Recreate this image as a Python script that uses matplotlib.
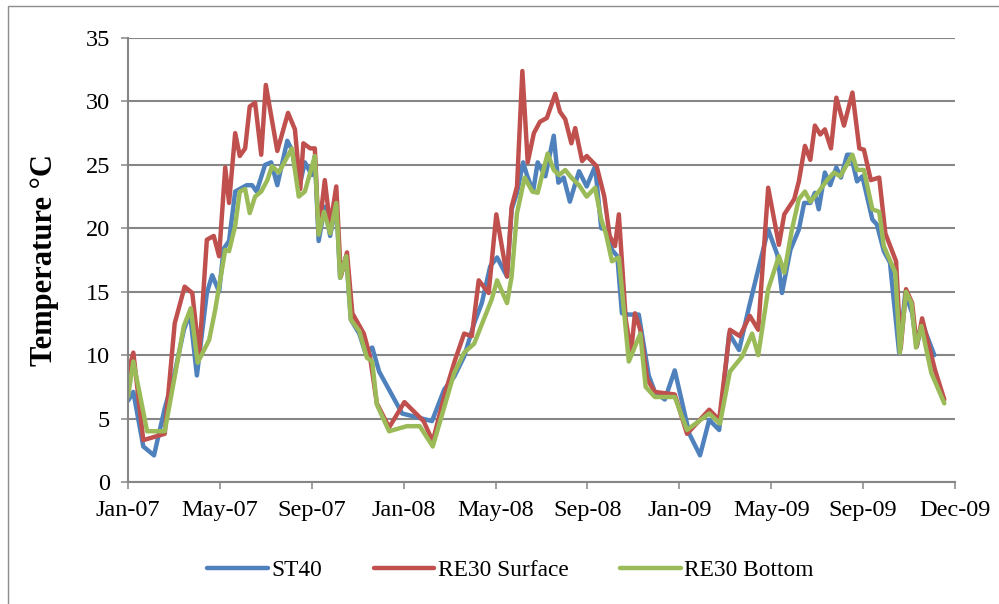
"""
Water temperature at ST40 and RE30 (surface / bottom), 2007-2009
"""

import numpy as np
import matplotlib
matplotlib.use("Agg")
import matplotlib.pyplot as plt
import matplotlib.dates as mdates
from matplotlib.patches import Rectangle

# sampling days, counted from 15 Jan 2007
START = np.datetime64("2007-01-15")
AXIS_DAYS = 1080
TICK_STEP = 120

st40_day = [0, 7, 20, 34, 48, 61, 73, 81, 90, 103, 110, 119, 125, 132, 140, 149, 155,
            162, 168, 179, 187, 195, 208, 214, 223, 231, 240, 244, 249, 257, 264, 272,
            277, 285, 291, 302, 310, 319, 328, 358, 397, 413, 426, 439, 452, 462, 473,
            482, 495, 501, 508, 516, 521, 529, 535, 545, 556, 562, 569, 577, 589, 599,
            610, 618, 626, 632, 639, 645, 654, 667, 680, 688, 701, 714, 733, 747, 759,
            772, 785, 798, 811, 824, 836, 848, 854, 865, 876, 883, 891, 897, 902, 910,
            917, 925, 931, 939, 944, 952, 959, 972, 978, 987, 995, 1007, 1015, 1024,
            1030, 1037, 1053]
st40_temp = [6.4, 7.1, 2.8, 2.1, 5.8, 8.6, 12.0, 13.3, 8.4, 14.9, 16.3, 15.0, 18.4, 19.0,
             22.9, 23.2, 23.4, 23.4, 22.9, 25.0, 25.2, 23.4, 26.9, 26.2, 23.1, 25.2, 24.2,
             25.7, 19.0, 21.7, 19.4, 22.0, 16.1, 17.8, 12.8, 11.7, 10.2, 10.6, 8.7, 5.4,
             4.8, 7.3, 8.3, 9.9, 12.5, 14.1, 17.0, 17.7, 16.2, 21.5, 22.8, 25.2, 24.2,
             22.9, 25.2, 24.1, 27.3, 23.6, 24.0, 22.1, 24.5, 23.3, 24.9, 20.0, 19.9, 18.3,
             17.8, 13.3, 13.2, 13.2, 8.4, 7.1, 6.5, 8.8, 3.8, 2.1, 4.9, 4.1, 11.7, 10.4,
             13.8, 17.0, 19.9, 17.9, 14.9, 18.3, 19.9, 22.0, 22.0, 22.8, 21.5, 24.4, 23.4,
             24.8, 24.0, 25.8, 25.8, 23.7, 24.1, 20.7, 20.3, 18.2, 17.3, 10.2, 14.9, 13.3,
             10.7, 12.5, 10.0]

surface_day = [0, 7, 20, 48, 61, 74, 84, 93, 103, 112, 119, 127, 132, 140, 146, 153, 159,
               166, 174, 180, 195, 209, 218, 225, 229, 238, 244, 249, 257, 264, 272, 278,
               286, 293, 308, 316, 325, 341, 361, 386, 398, 414, 427, 439, 449, 458, 471,
               481, 495, 501, 508, 515, 522, 530, 538, 547, 558, 564, 571, 579, 584, 593,
               599, 612, 622, 629, 636, 641, 650, 657, 662, 669, 678, 688, 714, 730, 759,
               772, 786, 799, 812, 823, 836, 850, 857, 870, 876, 884, 891, 897, 904, 910,
               918, 925, 935, 946, 955, 961, 970, 981, 989, 1003, 1009, 1016, 1024, 1030,
               1037, 1046, 1054, 1066]
surface_temp = [8.6, 10.2, 3.3, 3.8, 12.5, 15.4, 14.9, 10.0, 19.1, 19.4, 17.8, 24.8, 22.0,
                27.5, 25.7, 26.3, 29.6, 29.9, 25.8, 31.3, 26.1, 29.1, 27.8, 23.1, 26.7,
                26.3, 26.3, 19.6, 23.8, 20.2, 23.3, 16.2, 18.1, 13.3, 11.7, 9.9, 6.2, 4.3,
                6.3, 4.8, 3.2, 7.0, 9.6, 11.7, 11.5, 15.9, 14.9, 21.1, 16.2, 21.7, 23.3,
                32.4, 25.2, 27.5, 28.4, 28.7, 30.6, 29.2, 28.6, 26.7, 27.9, 25.3, 25.7,
                24.9, 22.5, 19.4, 18.6, 21.1, 12.8, 10.2, 13.3, 12.0, 8.1, 7.1, 6.9, 3.8,
                5.7, 4.9, 12.0, 11.5, 13.1, 12.0, 23.2, 18.7, 21.1, 22.3, 23.7, 26.5, 25.4,
                28.1, 27.4, 27.8, 26.3, 30.3, 28.1, 30.7, 26.3, 26.2, 23.8, 24.0, 19.6,
                17.4, 10.5, 15.2, 14.1, 10.7, 12.9, 10.7, 8.8, 6.5]

bottom_day = [0, 7, 25, 48, 61, 73, 82, 91, 106, 114, 127, 132, 140, 146, 153, 159, 166,
              174, 182, 188, 197, 214, 223, 231, 244, 249, 256, 264, 272, 277, 285, 291,
              302, 312, 319, 325, 341, 364, 381, 398, 413, 426, 439, 452, 475, 482, 495,
              501, 508, 518, 528, 535, 548, 556, 563, 571, 579, 589, 599, 610, 618, 624,
              632, 641, 654, 669, 676, 688, 714, 730, 759, 773, 786, 802, 815, 823, 836,
              850, 857, 867, 876, 884, 891, 902, 913, 922, 930, 946, 952, 961, 972, 981,
              987, 1002, 1008, 1016, 1023, 1029, 1036, 1049, 1066]
bottom_temp = [6.7, 9.5, 4.0, 4.0, 8.3, 12.3, 13.7, 9.4, 11.2, 13.6, 18.3, 18.2, 20.2,
               22.9, 23.1, 21.2, 22.5, 22.9, 23.8, 24.9, 24.4, 26.3, 22.5, 22.9, 25.7,
               19.5, 21.3, 19.6, 22.0, 16.1, 17.8, 12.8, 11.9, 9.8, 9.5, 6.1, 4.0, 4.4,
               4.4, 2.8, 5.9, 8.6, 10.2, 10.9, 14.4, 15.9, 14.1, 16.2, 21.2, 24.0, 22.9,
               22.8, 25.9, 24.6, 24.2, 24.6, 24.0, 23.4, 22.5, 23.2, 20.7, 19.6, 17.4,
               17.7, 9.5, 11.7, 7.5, 6.7, 6.7, 4.1, 5.4, 4.6, 8.7, 9.9, 11.7, 10.0, 15.2,
               17.8, 16.5, 19.9, 22.3, 22.9, 22.1, 22.9, 23.8, 24.4, 24.1, 25.8, 24.6,
               24.6, 21.5, 21.3, 18.6, 16.5, 10.2, 15.0, 14.1, 10.6, 12.3, 8.6, 6.2]

series_names = ["ST40", "RE30 Surface", "RE30 Bottom"]
series_colors = ["#4F81BD", "#C0504D", "#9BBB59"]

y_ticks = [0, 5, 10, 15, 20, 25, 30, 35]
GRID_GRAY = "#868686"


def to_dates(days):
    return START + np.array(days).astype("timedelta64[D]")


plt.rcParams["font.family"] = ["Liberation Serif", "DejaVu Serif"]

fig = plt.figure(figsize=(9.99, 6.04), dpi=100)
ax = fig.add_axes([0.1281, 0.202, 0.956 - 0.1281, 0.937 - 0.202])

# chart frame (runs off the right and bottom edges like the source)
fig.patches.append(Rectangle((8 / 999, -0.1), 1.2, 0.99 + 0.1, transform=fig.transFigure,
                             fill=False, edgecolor="#8C8C8C", linewidth=1.0))

data = [(st40_day, st40_temp), (surface_day, surface_temp), (bottom_day, bottom_temp)]
for (days, temps), name, color in zip(data, series_names, series_colors):
    ax.plot(to_dates(days), temps, color=color, linewidth=3.2, label=name,
            solid_joinstyle="round", solid_capstyle="round")

ax.set_ylim(0, 35)
ax.set_yticks(y_ticks)
ax.set_xlim(START, START + np.timedelta64(AXIS_DAYS, "D"))
ax.set_xticks(to_dates(range(0, AXIS_DAYS + 1, TICK_STEP)))
ax.xaxis.set_major_formatter(mdates.DateFormatter("%b-%y"))

ax.yaxis.grid(True, color=GRID_GRAY, linewidth=1.5)
ax.set_axisbelow(True)
for side in ["top", "right"]:
    ax.spines[side].set_visible(False)
for side in ["left", "bottom"]:
    ax.spines[side].set_color(GRID_GRAY)
    ax.spines[side].set_linewidth(1.5)
ax.tick_params(axis="both", direction="out", length=5, width=1.1, color=GRID_GRAY,
               labelsize=17.5, pad=8)

ax.set_ylabel("Temperature °C", fontsize=22, fontweight="bold", labelpad=19)

fig.legend(loc="center", bbox_to_anchor=(0.511, 0.056), ncol=3, frameon=False,
           fontsize=16.8, handlelength=2.6, handletextpad=0.15, columnspacing=2.2)

fig.savefig("out.png", dpi=100)
